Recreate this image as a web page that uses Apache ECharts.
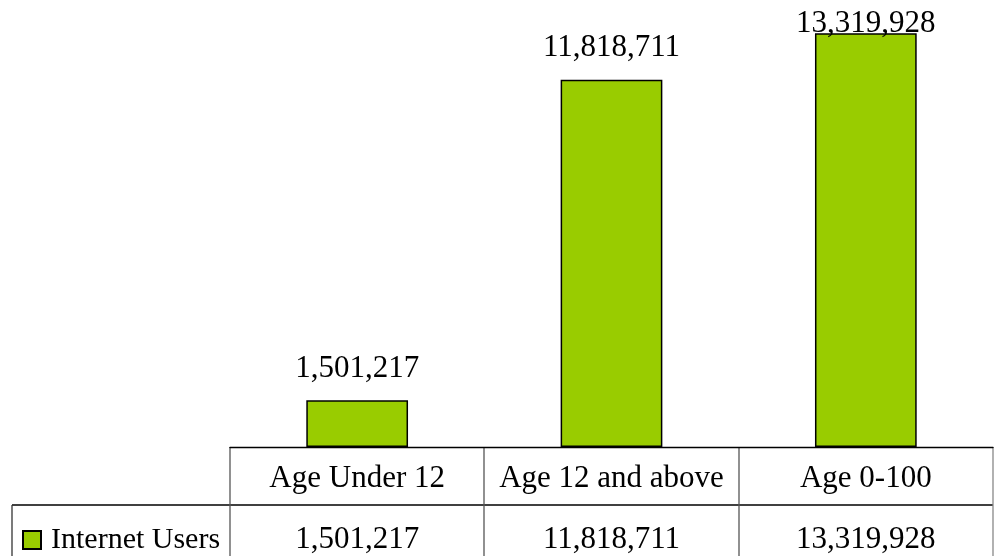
<!DOCTYPE html>
<html>
<head>
<meta charset="utf-8">
<script src="https://cdn.jsdelivr.net/npm/echarts@6/dist/echarts.min.js"></script>
<style>
  html, body { margin: 0; padding: 0; background: #fff; }
  #chart { width: 994px; height: 556px; }
</style>
</head>
<body>
<div id="chart"></div>
<script>
  const categories = ['Age Under 12', 'Age 12 and above', 'Age 0-100'];
  const users = [1501217, 11818711, 13319928];
  const seriesName = 'Internet Users';

  const FONT = '"Liberation Serif", "Times New Roman", serif';
  const FS = 31;
  const fmt = (v) => v.toLocaleString('en-US');

  // layout of plot + table (px)
  const gridLeft = 230;
  const gridRight = 1;
  const gridTop = 12;
  const baseY = 447;
  const rowH = 58;
  const W = 994;
  const H = 556;

  const chart = echarts.init(document.getElementById('chart'));

  // table grid lines
  const bandW = (W - gridRight - gridLeft) / categories.length;
  const lines = [];
  const line = (x1, y1, x2, y2, color) =>
    lines.push({
      type: 'line',
      silent: true,
      shape: { x1: x1, y1: y1, x2: x2, y2: y2 },
      style: { stroke: color, lineWidth: 1.3 },
    });
  line(12, baseY + rowH, W - gridRight, baseY + rowH, '#000');
  line(12, baseY + rowH, 12, H, '#333');
  for (let i = 0; i <= categories.length; i++) {
    const x = Math.round(gridLeft + i * bandW);
    line(x, baseY, x, H, i === categories.length ? '#888' : '#555');
  }

  const option = {
    animation: false,
    textStyle: { fontFamily: FONT },
    grid: {
      left: gridLeft,
      right: gridRight,
      top: gridTop,
      bottom: H - baseY,
    },
    legend: {
      left: 17,
      top: 520,
      icon: 'rect',
      itemWidth: 18,
      itemHeight: 18,
      itemGap: 8,
      textStyle: {
        fontFamily: FONT,
        fontSize: 30,
        color: '#000',
        padding: [0, 0, 0, 5],
      },
      data: [seriesName],
    },
    xAxis: [
      {
        type: 'category',
        data: categories,
        axisLine: { lineStyle: { color: '#000', width: 1.3 } },
        axisTick: { show: false },
        axisLabel: {
          color: '#000',
          fontFamily: FONT,
          fontSize: FS,
          margin: 16,
          interval: 0,
        },
      },
      {
        type: 'category',
        position: 'bottom',
        offset: rowH,
        data: users.map(fmt),
        axisLine: { show: false },
        axisTick: { show: false },
        axisLabel: {
          color: '#000',
          fontFamily: FONT,
          fontSize: FS,
          margin: 19,
          interval: 0,
        },
      },
    ],
    yAxis: {
      type: 'value',
      min: 0,
      max: 14000000,
      show: false,
      splitLine: { show: false },
    },
    series: [
      {
        name: seriesName,
        type: 'bar',
        data: users,
        barWidth: '40%',
        itemStyle: { color: '#99cc00', borderColor: '#000', borderWidth: 1.5 },
        label: {
          show: true,
          position: 'top',
          distance: 16,
          color: '#000',
          fontFamily: FONT,
          fontSize: FS,
          formatter: (p) => fmt(p.value),
        },
        // keep labels inside the canvas
        labelLayout: (p) => {
          const minTop = 8;
          return p.labelRect.y < minTop ? { dy: minTop - p.labelRect.y } : {};
        },
      },
    ],
    graphic: lines,
  };

  chart.setOption(option);
</script>
</body>
</html>
